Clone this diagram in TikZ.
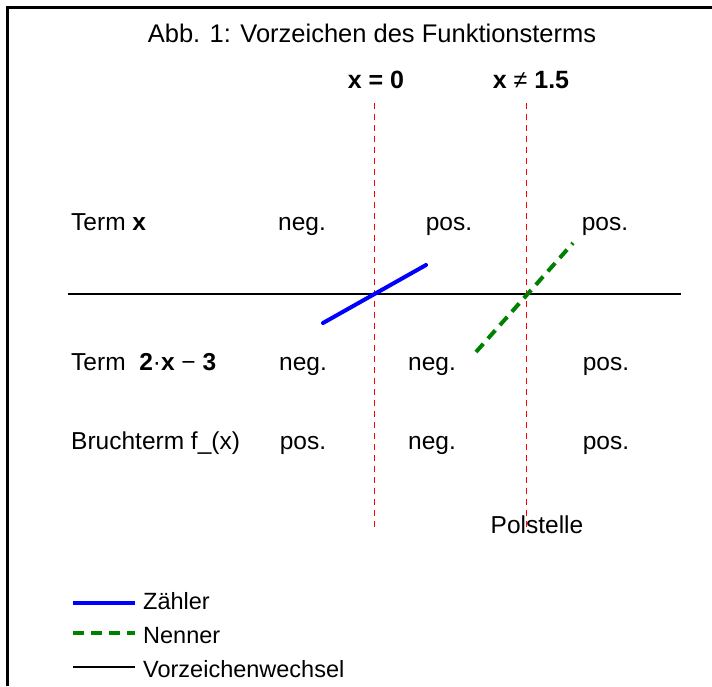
\documentclass[tikz,border=0pt]{standalone}
\usepackage{fontspec}
\setmainfont{Liberation Sans}
\begin{document}
\begin{tikzpicture}[x=1pt,y=-1pt,
  lbl/.style={inner sep=0pt,anchor=base,font=\fontsize{24.5}{28}\selectfont},
  lblw/.style={lbl,anchor=base west},
  hdr/.style={inner sep=0pt,anchor=base,font=\fontsize{25}{28}\selectfont\bfseries},
  leg/.style={inner sep=0pt,anchor=base west,font=\fontsize{23.5}{28}\selectfont},
  vline/.style={red,line width=1.2pt,dash pattern=on 6pt off 5pt},
  zaehler/.style={blue,line width=4pt,line cap=round},
  nenner/.style={green!50!black,line width=4pt,dash pattern=on 11pt off 7pt},
  wechsel/.style={black,line width=2pt},
  frame/.style={black,line width=3pt}]
\useasboundingbox (0,0) rectangle (712,686);
% frame
\coordinate (fb) at (7.5,686);
\coordinate (fc) at (7.5,7.5);
\coordinate (fr) at (712,7.5);
\draw[frame] (fb) -- (fc) -- (fr);
% title and headers
\node[inner sep=0pt,anchor=base,font=\fontsize{25.5}{28}\selectfont] (title) at (372,42) {Abb. 1: Vorzeichen des Funktionsterms};
\node[hdr] (h1) at (376,88) {x = 0};
\node[hdr] (h2) at (531,88) {x {\mdseries ≠} 1.5};
% vertical dashed lines
\coordinate (v1t) at (374.5,103);
\coordinate (v1b) at (374.5,527);
\coordinate (v2t) at (526.5,103);
\coordinate (v2b) at (526.5,527);
\draw[vline] (v1t) -- (v1b);
\draw[vline] (v2t) -- (v2b);
% axis
\coordinate (al) at (68,294);
\coordinate (ar) at (681,294);
\draw[wechsel] (al) -- (ar);
% numerator and denominator lines
\coordinate (b1) at (323,323);
\coordinate (b2) at (426,265);
\draw[zaehler] (b1) -- (b2);
\coordinate (g1) at (476,352);
\coordinate (g2) at (573,243);
\draw[nenner] (g1) -- (g2);
% row 1
\node[lblw] (r1) at (71,230) {Term \textbf{x}};
\node[lbl] (r1a) at (302,230) {neg.};
\node[lbl] (r1b) at (449,230) {pos.};
\node[lbl] (r1c) at (605,230) {pos.};
% row 2
\node[lblw] (r2) at (71,370) {Term\ \ \textbf{2}·\textbf{x} − \textbf{3}};
\node[lbl] (r2a) at (303,370) {neg.};
\node[lbl] (r2b) at (432,370) {neg.};
\node[lbl] (r2c) at (606,370) {pos.};
% row 3
\node[lblw] (r3) at (71,449) {Bruchterm f\_(x)};
\node[lbl] (r3a) at (303,449) {pos.};
\node[lbl] (r3b) at (432,449) {neg.};
\node[lbl] (r3c) at (606,449) {pos.};
% Polstelle
\node[lbl] (pol) at (537,533) {Polstelle};
% legend
\coordinate (l1a) at (73,603);
\coordinate (l1b) at (135,603);
\draw[zaehler,line cap=butt] (l1a) -- (l1b);
\node[leg] (t1) at (143,609) {Zähler};
\coordinate (l2a) at (73,633);
\coordinate (l2b) at (135,633);
\draw[nenner] (l2a) -- (l2b);
\node[leg] (t2) at (143,643) {Nenner};
\coordinate (l3a) at (73,667);
\coordinate (l3b) at (135,667);
\draw[black,line width=1.3pt] (l3a) -- (l3b);
\node[leg] (t3) at (143,677) {Vorzeichenwechsel};
\end{tikzpicture}
\end{document}
